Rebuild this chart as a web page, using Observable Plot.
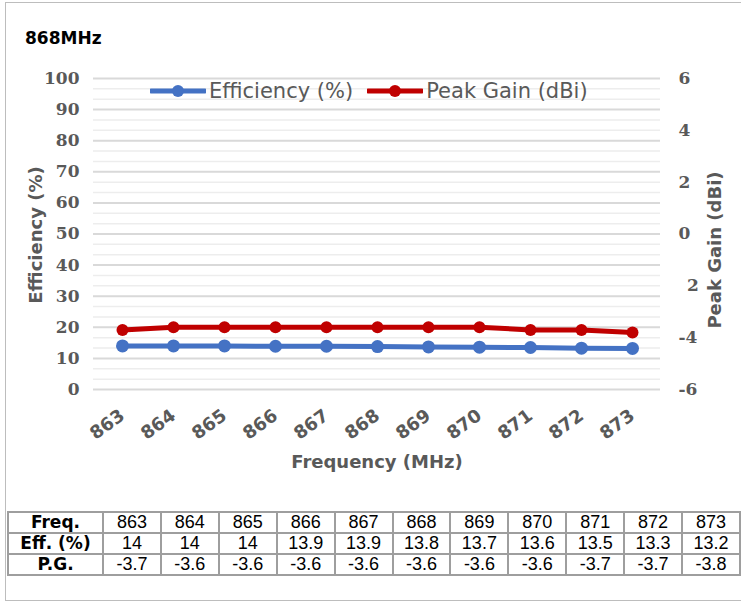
<!DOCTYPE html>
<html>
<head>
<meta charset="utf-8">
<script src="https://cdn.jsdelivr.net/npm/d3@7"></script>
<script src="https://cdn.jsdelivr.net/npm/@observablehq/plot@0.6"></script>
<style>
  html, body { margin: 0; padding: 0; background: #fff; }
  #page { position: relative; width: 741px; height: 602px; overflow: hidden; font-family: "DejaVu Sans", Verdana, sans-serif; }
  #frame { position: absolute; left: 5px; top: 2px; width: 740px; height: 597px; border-top: 1.5px solid #bdbdbd; border-left: 1.5px solid #bdbdbd; border-bottom: 1.5px solid #bdbdbd; }
  #chart { position: absolute; left: 0; top: 0; }
  .title { position: absolute; left: 25px; top: 28px; font-size: 17px; font-weight: bold; color: #000; line-height: 20px; }
  .axis-title { position: absolute; font-size: 18px; font-weight: bold; color: #595959; white-space: nowrap; line-height: 21px; }
  .rot { transform: translate(-50%, -50%) rotate(-90deg); }
  .legend { position: absolute; top: 80px; left: 150px; display: flex; align-items: center; font-size: 21px; color: #595959; white-space: nowrap; line-height: 22px; }
  .legend .item { display: flex; align-items: center; margin-right: 14px; }
  .legend svg { margin-right: 3px; }
  table { position: absolute; left: 7px; top: 511px; width: 734px; border-collapse: collapse; table-layout: fixed; }
  td { border: 2.5px solid #9e9e9e; text-align: center; padding: 0; height: 19px; line-height: 19px; font-family: "Liberation Sans", Arial, sans-serif; font-size: 18px; color: #000; }
  td.h { font-family: "DejaVu Sans", Verdana, sans-serif; font-weight: bold; font-size: 17px; width: 93px; }
</style>
</head>
<body>
<div id="page">
  <div id="frame"></div>
  <div id="chart"></div>
  <div class="title">868MHz</div>
  <div class="legend" id="legend"></div>
  <div class="axis-title" style="left:377px; top:451px; transform: translateX(-50%);">Frequency (MHz)</div>
  <div class="axis-title rot" style="left:35px; top:235px;">Efficiency (%)</div>
  <div class="axis-title rot" style="left:714px; top:250px;">Peak Gain (dBi)</div>
  <table id="tbl"></table>
</div>
<script>
// Measured values per frequency point
const freqs = [863, 864, 865, 866, 867, 868, 869, 870, 871, 872, 873];
const efficiency = [14, 14, 14, 13.9, 13.9, 13.8, 13.7, 13.6, 13.5, 13.3, 13.2];
const peakGain = [-3.7, -3.6, -3.6, -3.6, -3.6, -3.6, -3.6, -3.6, -3.7, -3.7, -3.8];

// Axis ticks: efficiency on the left, peak gain on the right
const effTicks = [0, 10, 20, 30, 40, 50, 60, 70, 80, 90, 100];
const gainTicks = [-6, -4, -2, 0, 2, 4, 6];
const gainTickLabels = ["-6", "-4", "\u20022", "0", "2", "4", "6"];

const blue = "#4472C4";
const red = "#C00000";

// Peak gain (-6..6 dBi) is mapped onto the efficiency scale (0..100 %)
const gainToEff = g => (g + 6) / 12 * 100;

const rows = freqs.map((f, i) => ({freq: f, eff: efficiency[i], gain: peakGain[i]}));

// Gridlines: major every 10 %, two light lines in between
const minorGrid = effTicks.slice(0, -1).flatMap(v => [v + 10 / 3, v + 20 / 3]);

const plot = Plot.plot({
  width: 741,
  height: 480,
  marginTop: 78,
  marginBottom: 91,
  marginLeft: 93,
  marginRight: 81,
  style: {background: "transparent", color: "#595959", fontFamily: "DejaVu Sans, Verdana, sans-serif"},
  x: {type: "point", domain: freqs, padding: 0.5},
  y: {domain: [0, 100]},
  marks: [
    Plot.ruleY(minorGrid, {stroke: "#ededed", strokeWidth: 1.5}),
    Plot.ruleY(effTicks, {stroke: "#d9d9d9", strokeWidth: 2}),
    Plot.axisX(freqs, {
      tickSize: 0, tickPadding: 24, tickRotate: -36,
      fontSize: 18, fontWeight: "bold", label: null
    }),
    Plot.axisY(effTicks, {
      anchor: "left", tickSize: 0, tickPadding: 14,
      fontSize: 17, fontWeight: "bold", fontFamily: "DejaVu Serif, serif", label: null
    }),
    Plot.axisY(gainTicks.map(gainToEff), {
      anchor: "right", tickSize: 0, tickPadding: 18,
      tickFormat: (d, i) => gainTickLabels[i],
      fontSize: 17, fontWeight: "bold", fontFamily: "DejaVu Serif, serif", label: null
    }),
    Plot.line(rows, {x: "freq", y: "eff", stroke: blue, strokeWidth: 5}),
    Plot.dot(rows, {x: "freq", y: "eff", r: 6.5, fill: blue}),
    Plot.line(rows, {x: "freq", y: d => gainToEff(d.gain), stroke: red, strokeWidth: 5}),
    Plot.dot(rows, {x: "freq", y: d => gainToEff(d.gain), r: 6, fill: red})
  ]
});
document.getElementById("chart").appendChild(plot);

// Legend
const legendItems = [
  {label: "Efficiency (%)", color: blue},
  {label: "Peak Gain (dBi)", color: red}
];
const legend = document.getElementById("legend");
for (const it of legendItems) {
  const item = document.createElement("div");
  item.className = "item";
  item.innerHTML =
    `<svg width="56" height="14"><line x1="1" x2="55" y1="7" y2="7" stroke="${it.color}" stroke-width="5" stroke-linecap="round"/>` +
    `<circle cx="28" cy="7" r="6" fill="${it.color}"/></svg><span>${it.label}</span>`;
  legend.appendChild(item);
}

// Data table under the chart
const tableRows = [
  {head: "Freq.", values: freqs},
  {head: "Eff. (%)", values: efficiency},
  {head: "P.G.", values: peakGain}
];
const tbl = document.getElementById("tbl");
for (const r of tableRows) {
  const tr = document.createElement("tr");
  const th = document.createElement("td");
  th.className = "h";
  th.textContent = r.head;
  tr.appendChild(th);
  for (const v of r.values) {
    const td = document.createElement("td");
    td.textContent = String(v);
    tr.appendChild(td);
  }
  tbl.appendChild(tr);
}
</script>
</body>
</html>
